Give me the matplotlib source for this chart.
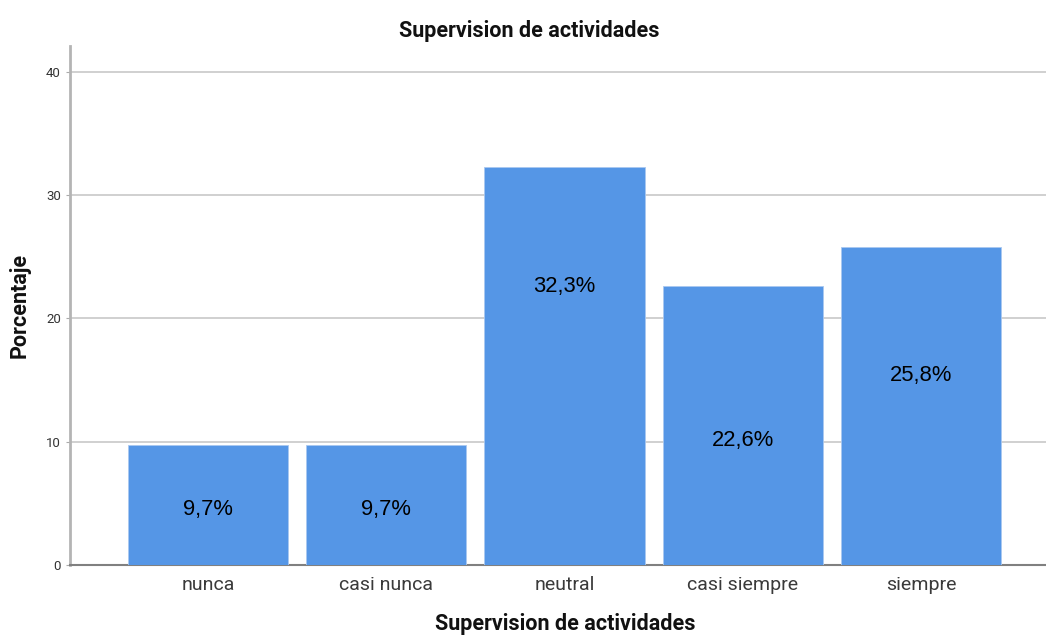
import matplotlib
matplotlib.use("Agg")
import matplotlib.pyplot as plt

categorias = ["nunca", "casi nunca", "neutral", "casi siempre", "siempre"]
porcentajes = [9.7, 9.7, 32.3, 22.6, 25.8]
etiquetas = ["9,7%", "9,7%", "32,3%", "22,6%", "25,8%"]
# height where SPSS placed each label (in data units)
altura_etiqueta = [4.5, 4.5, 22.6, 10.1, 15.4]

plt.rcParams["font.family"] = ["Roboto", "DejaVu Sans"]

fig = plt.figure(figsize=(10.46, 6.37), dpi=100)
ax = fig.add_axes([0.0669, 0.113, 0.933, 0.815])

x = range(len(categorias))
ax.bar(x, porcentajes, width=0.9, color="#5596e6", edgecolor="#a9c8f0", linewidth=0.6, zorder=3)

for i, txt in enumerate(etiquetas):
    ax.text(i, altura_etiqueta[i], txt, ha="center", va="center", fontsize=15.8,
            family=["Liberation Sans", "DejaVu Sans"], color="black", zorder=4)

ax.set_xlim(-0.774, 4.70)
ax.set_ylim(0, 42.1)
ax.set_yticks([0, 10, 20, 30, 40])
ax.set_xticks(list(x))
ax.set_xticklabels(categorias, fontsize=14, color="#3a3a3a")
ax.tick_params(axis="y", labelsize=9.5, length=3, color="#aaaaaa", labelcolor="#333333")
ax.tick_params(axis="x", length=0, pad=8)

ax.yaxis.grid(True, color="#c8c8c8", linewidth=1.2, zorder=0)
for s in ["top", "right"]:
    ax.spines[s].set_visible(False)
ax.spines["left"].set_color("#b4b4b4")
ax.spines["left"].set_linewidth(2)
ax.spines["bottom"].set_color("#808080")
ax.spines["bottom"].set_linewidth(1.5)

fig.text(0.506, 0.951, "Supervision de actividades", fontsize=15.5, fontweight="bold",
         ha="center", va="center", color="#111111")
ax.set_xlabel("Supervision de actividades", fontsize=15.5, fontweight="bold", color="#111111", va="center")
ax.xaxis.set_label_coords(0.507, -0.114)
ax.set_ylabel("Porcentaje", fontsize=15.5, fontweight="bold", labelpad=11, color="#111111")

fig.savefig("out.png", dpi=100)
